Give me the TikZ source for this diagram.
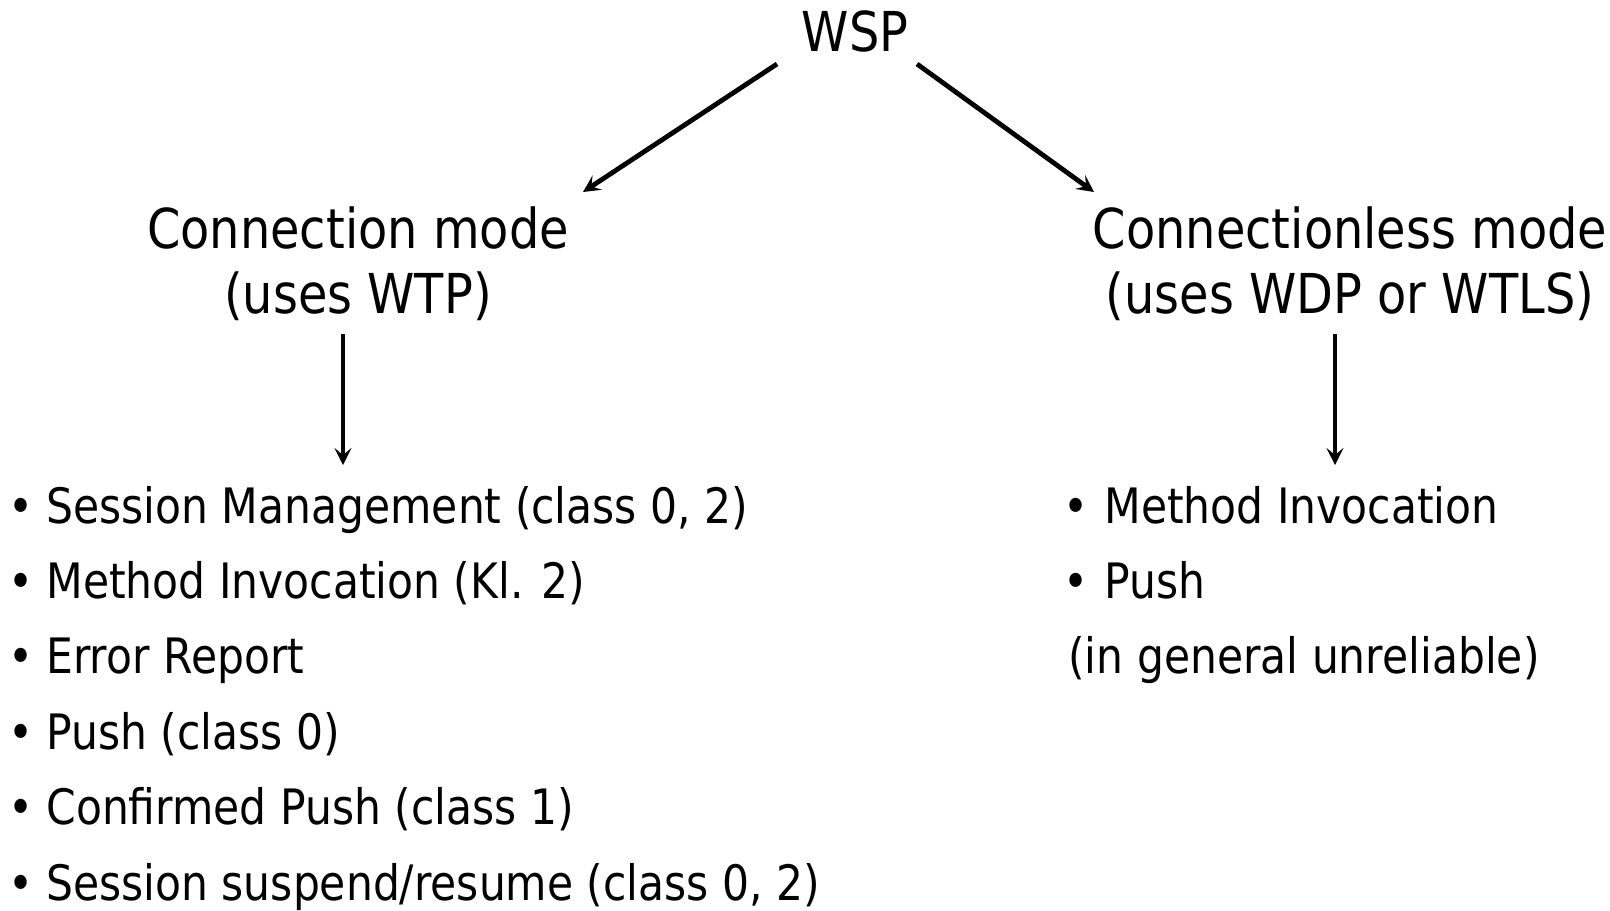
\documentclass[tikz,border=0pt]{standalone}
\usepackage{fontspec}
\setmainfont{DejaVu Sans}[FakeStretch=0.87]
\usetikzlibrary{arrows.meta}
\begin{document}
\begin{tikzpicture}[x=0.5pt,y=-0.5pt,
  head/.style={inner sep=0pt, font=\fontsize{27.5}{32}\selectfont},
  lbl/.style={inner sep=0pt, font=\fontsize{24.4}{30}\selectfont},
  conn/.style={line width=2.4pt, -{Stealth[length=8.5pt,width=8.5pt,inset=3.5pt]}}]
\useasboundingbox (0,0) rectangle (1610,910);

% headings
\node[head, anchor=base] (wsp) at (855,51) {WSP};
\node[head, anchor=base] (cm1) at (358,248) {Connection mode};
\node[head, anchor=base] (cm2) at (358,313) {(uses WTP)};
\node[head, anchor=base] (cl1) at (1350,248) {Connectionless mode};
\node[head, anchor=base] (cl2) at (1350,313) {(uses WDP or WTLS)};

% connector end points
\coordinate (wspL) at (777,64);
\coordinate (wspR) at (917,64);
\coordinate (cmTop) at (583,192);
\coordinate (clTop) at (1094,192);
\coordinate (cmOut) at (343,334);
\coordinate (clOut) at (1335,334);
\coordinate (cmList) at (343,465);
\coordinate (clList) at (1335,465);

\draw[conn] (wspL) -- (cmTop);
\draw[conn] (wspR) -- (clTop);
\draw[conn] (cmOut) -- (cmList);
\draw[conn] (clOut) -- (clList);

% connection-mode services
\foreach \t [count=\i] in {{Session Management (class 0, 2)},{Method Invocation (Kl. 2)},{Error Report},{Push (class 0)},{Confirmed Push (class 1)},{Session suspend/resume (class 0, 2)}}{
  \node[lbl, anchor=base] (lb\i) at (21,{523+(\i-1)*75.4}) {•};
  \node[lbl, anchor=base west] (lt\i) at (46,{523+(\i-1)*75.4}) {\t};
}

% connectionless-mode services
\node[lbl, anchor=base] (rb1) at (1076,523) {•};
\node[lbl, anchor=base west] (rt1) at (1104,523) {Method Invocation};
\node[lbl, anchor=base] (rb2) at (1076,598.4) {•};
\node[lbl, anchor=base west] (rt2) at (1104,598.4) {Push};
\node[lbl, anchor=base west] (rt3) at (1068,673.8) {(in general unreliable)};
\end{tikzpicture}
\end{document}
